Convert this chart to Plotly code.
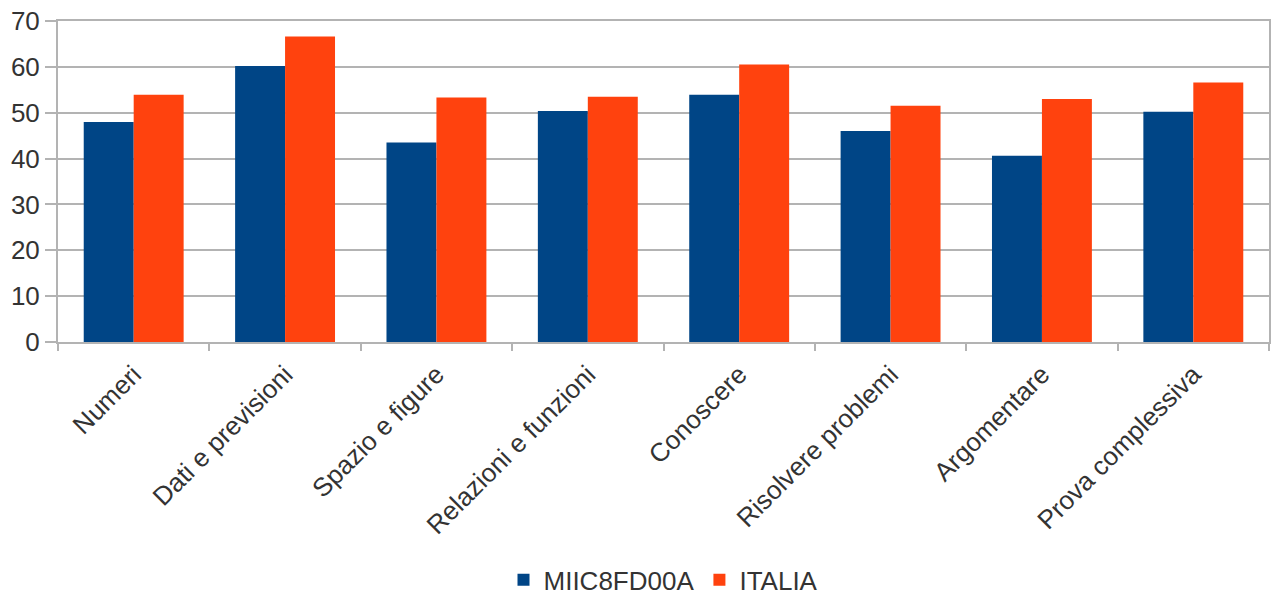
import plotly.graph_objects as go

categories = ["Numeri", "Dati e previsioni", "Spazio e figure", "Relazioni e funzioni",
              "Conoscere", "Risolvere problemi", "Argomentare", "Prova complessiva"]
miic = [48.0, 60.2, 43.5, 50.4, 53.9, 46.0, 40.6, 50.2]
italia = [53.9, 66.6, 53.3, 53.5, 60.5, 51.5, 53.0, 56.6]
y_ticks = [0, 10, 20, 30, 40, 50, 60, 70]

fig = go.Figure()
fig.add_trace(go.Bar(x=categories, y=miic, name="MIIC8FD00A", marker=dict(color="#004586", line=dict(width=0))))
fig.add_trace(go.Bar(x=categories, y=italia, name="ITALIA", marker=dict(color="#ff420e", line=dict(width=0))))

grid = "#b3b3b3"
fig.update_layout(
    width=1271, height=596,
    margin=dict(l=58, r=2, t=21, b=254, autoexpand=False),
    paper_bgcolor="white", plot_bgcolor="white",
    barmode="group", bargap=0.34, bargroupgap=0,
    font=dict(family="Liberation Sans, Arial, sans-serif", size=26, color="#333"),
    showlegend=True,
    legend=dict(orientation="h", x=0.5, xanchor="center", yref="container", y=0.027, yanchor="middle",
                font=dict(size=26), itemwidth=30, traceorder="normal"),
    xaxis=dict(type="category", tickangle=-45, tickson="boundaries", ticks="outside", ticklen=7,
               tickcolor=grid, tickwidth=2, showline=True, linecolor=grid, linewidth=2, mirror=True,
               showgrid=False, tickfont=dict(size=26), automargin=False, ticklabelstandoff=5),
    yaxis=dict(range=[0, 70], tickvals=y_ticks, ticks="outside", ticklen=11, tickcolor=grid, tickwidth=2,
               showline=True, linecolor=grid, linewidth=2, mirror=True, showgrid=True, gridcolor=grid,
               gridwidth=2, zeroline=False, tickfont=dict(size=26), automargin=False),
)

fig.write_html("out.html", config={"displayModeBar": False},
               post_script="document.body.style.margin='0px';document.body.style.overflow='hidden';")
